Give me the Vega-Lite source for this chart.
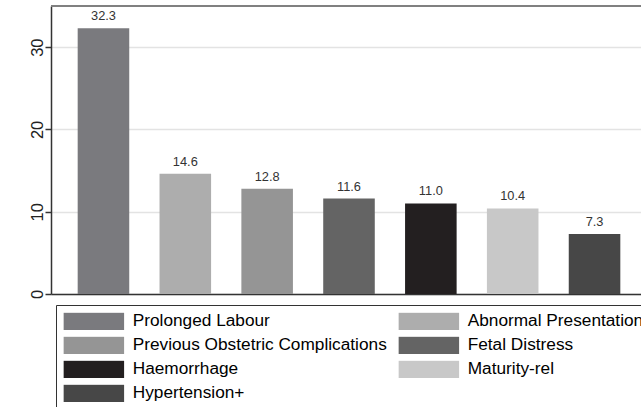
{
  "$schema": "https://vega.github.io/schema/vega-lite/v6.json",
  "width": 590,
  "height": 288,
  "autosize": {"type": "none"},
  "padding": {"left": 51, "top": 6, "right": 0, "bottom": 113},
  "background": "white",
  "config": {"view": {"stroke": null}, "font": "Liberation Sans"},
  "data": {"values": [
    {"cause": "Prolonged Labour", "pct": 32.3},
    {"cause": "Abnormal Presentation", "pct": 14.6},
    {"cause": "Previous Obstetric Complications", "pct": 12.8},
    {"cause": "Fetal Distress", "pct": 11.6},
    {"cause": "Haemorrhage", "pct": 11.0},
    {"cause": "Maturity-rel", "pct": 10.4},
    {"cause": "Hypertension+", "pct": 7.3}
  ]},
  "layer": [
    {
      "mark": {"type": "bar"},
      "encoding": {
        "x": {"field": "cause", "type": "nominal", "sort": null,
          "scale": {"range": [0, 596], "paddingInner": 0.37, "paddingOuter": 0.326},
          "axis": {"title": null, "labels": false, "ticks": false, "domain": true, "domainColor": "#333", "domainWidth": 1.5, "grid": false}},
        "y": {"field": "pct", "type": "quantitative",
          "scale": {"domain": [0, 35], "nice": false, "zero": true},
          "axis": {"title": null, "values": [0, 10, 20, 30], "labelAngle": -90, "labelAlign": "center", "labelBaseline": "alphabetic", "labelFontSize": 16.5, "labelColor": "#222", "labelPadding": 3, "tickSize": 6, "tickColor": "#333", "tickWidth": 1.5, "domainColor": "#333", "domainWidth": 1.5, "grid": true, "gridColor": "#e3e3e3", "gridWidth": 1.5}},
        "color": {"field": "cause", "type": "nominal",
          "scale": {
            "domain": ["Prolonged Labour", "Abnormal Presentation", "Previous Obstetric Complications", "Fetal Distress", "Haemorrhage", "Maturity-rel", "Hypertension+"],
            "range": ["#7a7a7e", "#adadad", "#959595", "#646464", "#231f20", "#c8c8c8", "#474747"]
          },
          "legend": {"orient": "none", "legendX": 5, "legendY": 299, "columns": 2, "direction": "horizontal", "title": null,
            "strokeColor": "#333", "fillColor": "white", "padding": 7.3,
            "symbolType": "M-1,-0.2855H1V0.2855H-1Z", "symbolSize": 3672, "symbolStrokeWidth": 0, "symbolOpacity": 1,
            "clipHeight": 18,
            "labelFontSize": 17.25, "labelFont": "Liberation Sans", "labelColor": "black", "labelOffset": 8.4,
            "rowPadding": 6, "columnPadding": 11, "labelLimit": 400}}
      }
    },
    {
      "mark": {"type": "text", "dy": -8, "baseline": "alphabetic", "fontSize": 12.8, "color": "#333"},
      "encoding": {
        "x": {"field": "cause", "type": "nominal", "sort": null},
        "y": {"field": "pct", "type": "quantitative"},
        "text": {"field": "pct", "type": "quantitative", "format": ".1f"}
      }
    },
    {
      "mark": {"type": "rule", "color": "#808080", "strokeWidth": 1.5},
      "encoding": {"y": {"datum": 35}}
    }
  ]
}
